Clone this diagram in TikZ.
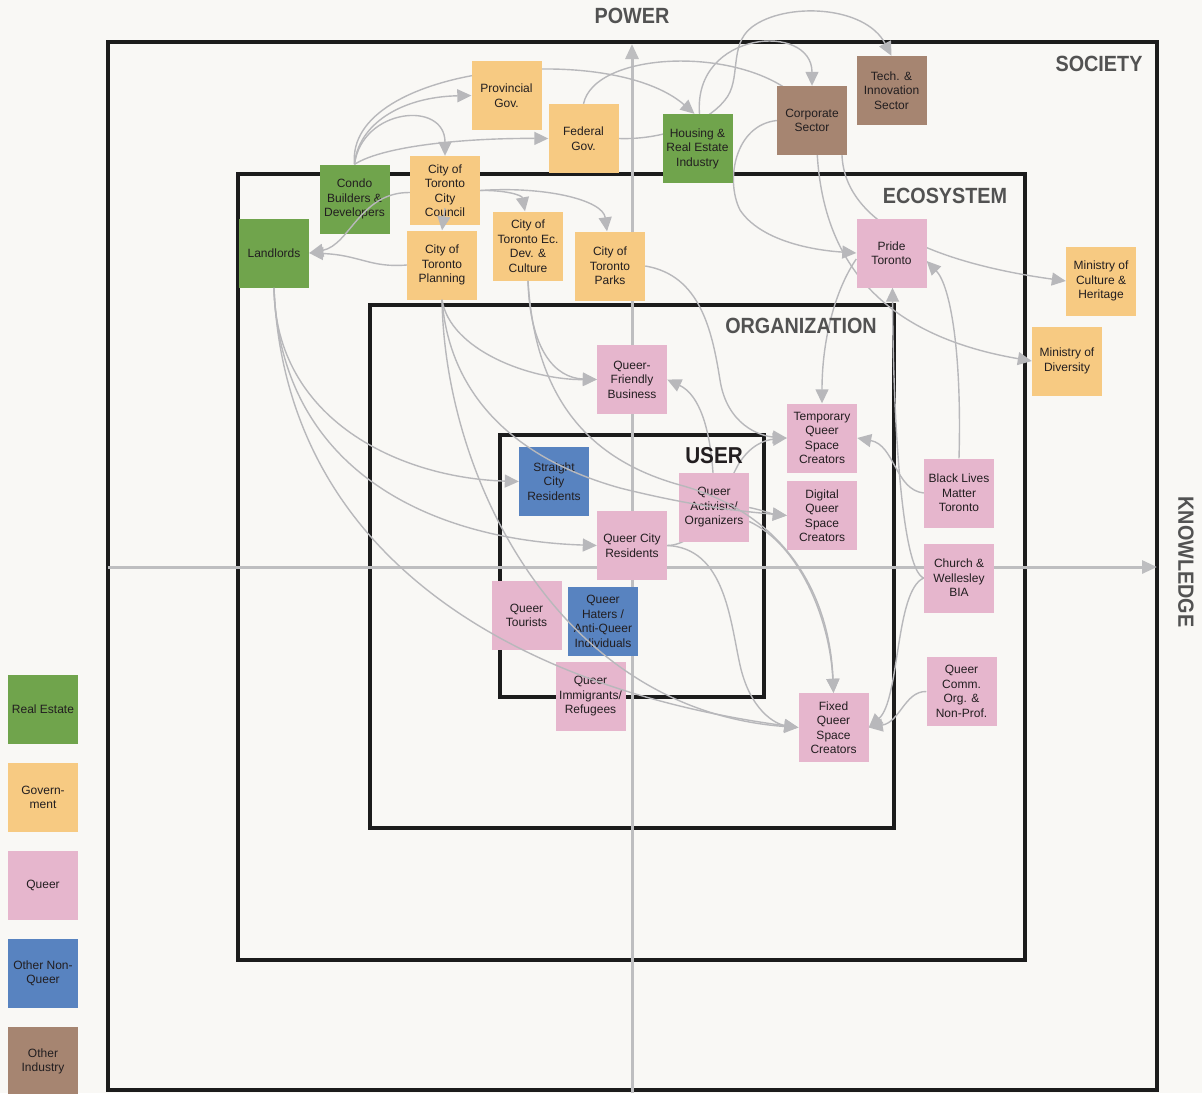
\documentclass[tikz,border=0pt]{standalone}
\usepackage{fontspec}
\setmainfont{Liberation Sans}
\newfontfamily\headfont[FakeStretch=0.9]{Liberation Sans}
\usetikzlibrary{arrows.meta}

\definecolor{paper}{RGB}{249,248,245}
\definecolor{cRE}{RGB}{112,164,76}
\definecolor{cGov}{RGB}{247,202,130}
\definecolor{cQ}{RGB}{230,182,205}
\definecolor{cNQ}{RGB}{88,131,192}
\definecolor{cInd}{RGB}{166,133,113}
\definecolor{ink}{RGB}{34,30,32}
\definecolor{ringc}{RGB}{28,28,28}
\definecolor{axisc}{RGB}{190,190,192}
\definecolor{linkc}{RGB}{184,184,187}
\definecolor{headc}{RGB}{82,82,82}

\pgfdeclarelayer{backdrop}
\pgfdeclarelayer{links}
\pgfdeclarelayer{overlinks}
\pgfsetlayers{backdrop,links,main,overlinks}

\tikzset{
  card/.style={minimum width=70pt,minimum height=69pt,inner sep=0pt,align=center,
    text=ink,font=\fontsize{12}{14.5}\selectfont},
  realestate/.style={card,fill=cRE},
  gov/.style={card,fill=cGov},
  queer/.style={card,fill=cQ},
  nonqueer/.style={card,fill=cNQ},
  industry/.style={card,fill=cInd},
  ring/.style={draw=ringc,line width=4.5pt},
  axisline/.style={draw=axisc,line width=3pt,-{Triangle[length=15pt,width=13pt]}},
  link/.style={draw=linkc,line width=1.4pt,-{Triangle[length=14pt,width=13pt]}},
  level/.style={font=\headfont\bfseries\fontsize{22}{22}\selectfont,text=headc,inner sep=0pt},
}

\begin{document}
\begin{tikzpicture}[x=1pt,y=-1pt]
\useasboundingbox (0,0) rectangle (1202,1093);

% ---------------- actors ----------------
% society level
\node[gov]      (prov)  at (506.5,95.5)  {Provincial\\Gov.};
\node[gov]      (fed)   at (583.5,138.5) {Federal\\Gov.};
\node[realestate] (hous) at (697.5,148.5) {Housing \&\\Real Estate\\Industry};
\node[industry] (corp)  at (812,120.5)   {Corporate\\Sector};
\node[industry] (tech)  at (891.5,90.5)  {Tech. \&\\Innovation\\Sector};
% ecosystem level
\node[realestate] (condo) at (354.5,199) {Condo\\Builders \&\\Developers};
\node[gov]      (council) at (445,190.5) {City of\\Toronto\\City\\Council};
\node[realestate] (land) at (274,253)    {Landlords};
\node[gov]      (plan)  at (442,265)     {City of\\Toronto\\Planning};
\node[gov]      (ecdev) at (528,246)     {City of\\Toronto Ec.\\Dev. \&\\Culture};
\node[gov]      (parks) at (610,266)     {City of\\Toronto\\Parks};
\node[queer]    (pride) at (891.5,253)   {Pride\\Toronto};
\node[gov]      (mincult) at (1101,281)  {Ministry of\\Culture \&\\Heritage};
\node[gov]      (mindiv)  at (1067,361)  {Ministry of\\Diversity};
\node[queer]    (blm)   at (959,493)     {Black Lives\\Matter\\Toronto};
\node[queer]    (church) at (959,578)    {Church \&\\Wellesley\\BIA};
\node[queer]    (qcomm) at (961.5,691.5) {Queer\\Comm.\\Org. \&\\Non-Prof.};
% organization level
\node[queer]    (qfb)   at (632,379.5)   {Queer-\\Friendly\\Business};
\node[queer]    (temp)  at (822,438)     {Temporary\\Queer\\Space\\Creators};
\node[queer]    (digital) at (822,515.5) {Digital\\Queer\\Space\\Creators};
\node[queer]    (fixed) at (833.5,727.5) {Fixed\\Queer\\Space\\Creators};
% user level
\node[nonqueer] (straight) at (554,481.5) {Straight\\City\\Residents};
\node[queer]    (activ) at (714,507.5)   {Queer\\Activists/\\Organizers};
\node[queer]    (qcity) at (632,545.5)   {Queer City\\Residents};
\node[queer]    (tourists) at (526.5,615.5) {Queer\\Tourists};
\node[nonqueer] (haters) at (603,621.5)  {Queer\\Haters /\\Anti-Queer\\Individuals};
\node[queer]    (immig) at (590.5,696.5) {Queer\\Immigrants/\\Refugees};

% legend
\node[realestate] (key-re)  at (43,709.5)  {Real Estate};
\node[gov]        (key-gov) at (43,797.5)  {Govern-\\ment};
\node[queer]      (key-q)   at (43,885.5)  {Queer};
\node[nonqueer]   (key-nq)  at (43,973.5)  {Other Non-\\Queer};
\node[industry]   (key-ind) at (43,1061.5) {Other\\Industry};

% ---------------- paper, nested levels and axes ----------------
\begin{pgfonlayer}{backdrop}
  \fill[paper] (0,0) rectangle (1202,1093);
  \draw[ring] (108,42) rectangle (1157,1090);
  \draw[ring] (238,174) rectangle (1025,960);
  \draw[ring] (370,305) rectangle (894,828);
  \draw[ring] (500,435) rectangle (764,697);
  \coordinate (ax-s) at (632,1093);
  \coordinate (ax-n) at (632,44);
  \coordinate (ax-w) at (108,567);
  \coordinate (ax-e) at (1157,567);
  \draw[axisline] (ax-s) -- (ax-n);
  \draw[axisline] (ax-w) -- (ax-e);
\end{pgfonlayer}

% ---------------- relations drawn beneath the cards ----------------
\begin{pgfonlayer}{links}
  % condo builders
  \draw[link] (condo.north) .. controls (358,125) and (400,97) .. (prov.west);
  \draw[link] (condo.north) .. controls (362,108) and (445,100) .. (council.north);
  \draw[link] (condo.north) .. controls (385,145) and (470,138) .. (fed.west);
  \draw[link] (condo.north) .. controls (345,65) and (610,40) .. ([xshift=-3pt]hous.north);
  % federal government
  \draw[link] (fed.north) .. controls (595,50) and (745,45) .. (800,100) -- (817,150)
              .. controls (822,260) and (880,335) .. (mindiv.west);
  \draw[link] (fed.east) .. controls (660,140) and (705,125) .. (725,100)
              .. controls (742,80) and (728,45) .. (752,27)
              .. controls (785,2) and (865,5) .. (tech.north);
  % housing industry and corporate sector
  \draw[link] ([xshift=2pt]hous.north) .. controls (693,30) and (812,22) .. (corp.north);
  \draw[link] ([xshift=30pt]corp.south) .. controls (845,230) and (950,265) .. (mincult.west);
  \draw[link] (corp.west) .. controls (735,125) and (725,180) .. (740,210)
              .. controls (760,240) and (810,250) .. (pride.west);
  % city of toronto
  \draw[link] (plan.west) .. controls (370,268) and (360,255) .. (land.east);
  \draw[link] (council.east) .. controls (505,190) and (522,195) .. ([xshift=-3pt]ecdev.north);
  \draw[link] (council.east) .. controls (545,186) and (603,200) .. ([xshift=-3pt]parks.north);
  \draw[link] (plan.south) .. controls (450,350) and (530,380) .. (qfb.west);
  \draw[link] (ecdev.south) .. controls (530,350) and (555,378) .. (qfb.west);
  \draw[link] (parks.east) .. controls (700,275) and (712,330) .. (720,380)
              .. controls (727,425) and (760,436) .. (temp.west);
  % landlords
  \draw[link] (land.south) .. controls (275,420) and (400,478) .. (straight.west);
  \draw[link] (land.south) .. controls (280,470) and (430,540) .. (qcity.west);
  % pride and community groups
  \draw[link] ([yshift=-6pt]pride.west) .. controls (835,290) and (822,340) .. (temp.north);
  \draw[link] (blm.north) .. controls (962,350) and (950,285) .. ([yshift=-8pt]pride.east);
  \draw[link] (blm.west) .. controls (895,490) and (895,445) .. (temp.east);
  \draw[link] (church.west) .. controls (900,570) and (893,400) .. ([xshift=1pt]pride.south);
  \draw[link] (church.west) .. controls (895,590) and (900,700) .. (fixed.east);
  \draw[link] (qcomm.west) .. controls (905,691) and (900,722) .. (fixed.east);
  % users
  \draw[link] ([xshift=-1pt]activ.north) .. controls (710,430) and (700,395) .. (qfb.east);
  \draw[link] (qcity.east) .. controls (700,545) and (720,500) .. (738,465)
              .. controls (750,445) and (765,440) .. (temp.west);
  \draw[link] (activ.east) .. controls (762,510) and (772,514) .. (digital.west);
  \draw[link] ([yshift=-14pt]activ.east) .. controls (800,545) and (830,620) .. (fixed.north);
  \draw[link] (qcity.east) .. controls (725,548) and (730,620) .. (740,665)
              .. controls (750,710) and (775,724) .. (fixed.west);
\end{pgfonlayer}

% ---------------- relations drawn across the cards ----------------
\begin{pgfonlayer}{overlinks}
  \draw[link] ([yshift=-2pt]council.west) .. controls (360,192) and (350,245) .. (land.east);
  \draw[link] ([yshift=17pt]council.south) -- (plan.north);
  \draw[link] (land.south) .. controls (285,560) and (520,690) .. (fixed.west);
  \draw[link] (plan.south) .. controls (445,480) and (560,710) .. (fixed.west);
  \draw[link] (plan.south) .. controls (450,400) and (520,460) .. (620,488)
              .. controls (700,508) and (750,512) .. (digital.west);
  \draw[link] (ecdev.south) .. controls (535,400) and (590,460) .. (680,485)
              .. controls (790,515) and (830,600) .. (fixed.north);

  % level and axis titles
  \node[level] (t-power) at (632,16)  {POWER};
  \node[level] (t-soc)   at (1099,64) {SOCIETY};
  \node[level] (t-eco)   at (945,196) {ECOSYSTEM};
  \node[level] (t-org)   at (801,326) {ORGANIZATION};
  \node[level,text=ink,font=\headfont\bfseries\fontsize{23}{23}\selectfont] (t-user) at (714,456) {USER};
  \node[level,rotate=-90] (t-know) at (1186,562) {KNOWLEDGE};
\end{pgfonlayer}
\end{tikzpicture}
\end{document}
